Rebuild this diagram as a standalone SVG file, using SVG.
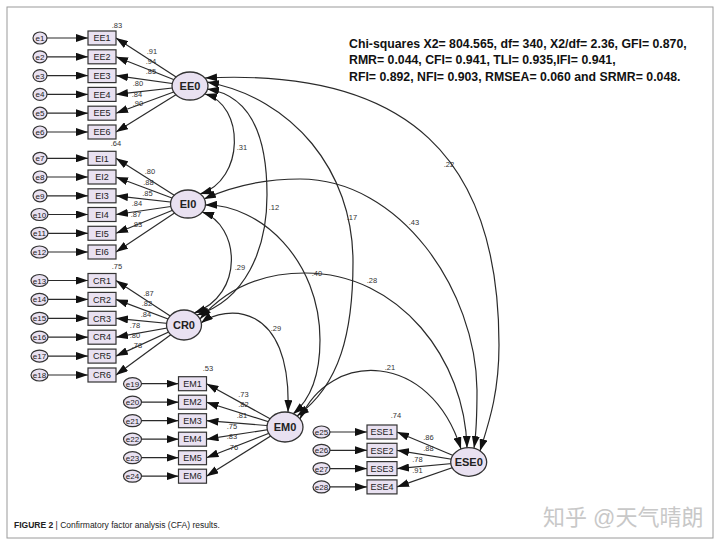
<svg xmlns="http://www.w3.org/2000/svg" width="720" height="545" viewBox="0 0 720 545">
<style>
.bg{fill:#ffffff}
.frame{fill:none;stroke:#9a9a9a;stroke-width:1}
.box{fill:#e9e1f1;stroke:#333;stroke-width:1.2}
.err{fill:#e9e1f1;stroke:#333;stroke-width:1.2}
.lat{fill:#e9e1f1;stroke:#333;stroke-width:1.3}
.ln{fill:none;stroke:#2a2a2a;stroke-width:1.2}
.tb{font-family:"Liberation Sans",Arial,sans-serif;font-size:9px;fill:#222;text-anchor:middle}
.te{font-family:"Liberation Sans",Arial,sans-serif;font-size:8px;fill:#222;text-anchor:middle}
.tl{font-family:"Liberation Sans",Arial,sans-serif;font-size:11px;font-weight:bold;fill:#222;text-anchor:middle}
.tn{font-family:"Liberation Sans",Arial,sans-serif;font-size:7.5px;fill:#333;text-anchor:middle}
.st{font-family:"Liberation Sans",Arial,sans-serif;font-size:12.3px;font-weight:bold;fill:#111}
.cap{font-family:"Liberation Sans",Arial,sans-serif;font-size:8.5px;fill:#222}
.wm{font-family:"Liberation Sans","Noto Sans CJK SC",sans-serif;font-size:22px;fill:#c8c8c8}
</style>
<defs>
<marker id="ah" viewBox="0 0 12 8" refX="12" refY="4" markerWidth="12" markerHeight="8" markerUnits="userSpaceOnUse" orient="auto-start-reverse"><path d="M0,0 L12,4 L0,8 z" fill="#111"/></marker>
</defs>
<rect class="bg" x="0" y="0" width="720" height="545"/>
<rect class="frame" x="7" y="7" width="706" height="531"/>

<g id="connectors">
<g marker-end="url(#ah)" class="ln">
<line x1="40" y1="38" x2="88" y2="38"/><line x1="40" y1="56.8" x2="88" y2="56.8"/><line x1="40" y1="75.6" x2="88" y2="75.6"/>
<line x1="40" y1="94.4" x2="88" y2="94.4"/><line x1="40" y1="113.2" x2="88" y2="113.2"/><line x1="40" y1="132" x2="88" y2="132"/>
<line x1="40" y1="158.3" x2="88" y2="158.3"/><line x1="40" y1="177" x2="88" y2="177"/><line x1="40" y1="195.8" x2="88" y2="195.8"/>
<line x1="40" y1="214.5" x2="88" y2="214.5"/><line x1="40" y1="233.3" x2="88" y2="233.3"/><line x1="40" y1="252" x2="88" y2="252"/>
<line x1="40" y1="280.5" x2="88" y2="280.5"/><line x1="40" y1="299.4" x2="88" y2="299.4"/><line x1="40" y1="318.3" x2="88" y2="318.3"/>
<line x1="40" y1="337.2" x2="88" y2="337.2"/><line x1="40" y1="356.1" x2="88" y2="356.1"/><line x1="40" y1="375" x2="88" y2="375"/>
<line x1="132.5" y1="383.7" x2="178.5" y2="383.7"/><line x1="132.5" y1="402.2" x2="178.5" y2="402.2"/><line x1="132.5" y1="420.7" x2="178.5" y2="420.7"/>
<line x1="132.5" y1="439.2" x2="178.5" y2="439.2"/><line x1="132.5" y1="457.7" x2="178.5" y2="457.7"/><line x1="132.5" y1="476.2" x2="178.5" y2="476.2"/>
<line x1="321.5" y1="432" x2="367" y2="432"/><line x1="321.5" y1="450.3" x2="367" y2="450.3"/><line x1="321.5" y1="468.6" x2="367" y2="468.6"/><line x1="321.5" y1="486.9" x2="367" y2="486.9"/>
</g>
<g marker-end="url(#ah)" class="ln">
<line x1="190" y1="86" x2="116" y2="38"/><line x1="190" y1="86" x2="116" y2="56.8"/><line x1="190" y1="86" x2="116" y2="75.6"/>
<line x1="190" y1="86" x2="116" y2="94.4"/><line x1="190" y1="86" x2="116" y2="113.2"/><line x1="190" y1="86" x2="116" y2="132"/>
<line x1="188" y1="204" x2="116" y2="158.3"/><line x1="188" y1="204" x2="116" y2="177"/><line x1="188" y1="204" x2="116" y2="195.8"/>
<line x1="188" y1="204" x2="116" y2="214.5"/><line x1="188" y1="204" x2="116" y2="233.3"/><line x1="188" y1="204" x2="116" y2="252"/>
<line x1="184" y1="325" x2="116" y2="280.5"/><line x1="184" y1="325" x2="116" y2="299.4"/><line x1="184" y1="325" x2="116" y2="318.3"/>
<line x1="184" y1="325" x2="116" y2="337.2"/><line x1="184" y1="325" x2="116" y2="356.1"/><line x1="184" y1="325" x2="116" y2="375"/>
<line x1="285" y1="427" x2="206.5" y2="383.7"/><line x1="285" y1="427" x2="206.5" y2="402.2"/><line x1="285" y1="427" x2="206.5" y2="420.7"/>
<line x1="285" y1="427" x2="206.5" y2="439.2"/><line x1="285" y1="427" x2="206.5" y2="457.7"/><line x1="285" y1="427" x2="206.5" y2="476.2"/>
<line x1="468.7" y1="462" x2="397" y2="432"/><line x1="468.7" y1="462" x2="397" y2="450.3"/><line x1="468.7" y1="462" x2="397" y2="468.6"/><line x1="468.7" y1="462" x2="397" y2="486.9"/>
</g>
<g marker-start="url(#ah)" marker-end="url(#ah)" class="ln">
<path d="M205,94 C245,105 245,180 200,194"/>
<path d="M207,89 C250,95 267,135 267,195 C267,250 245,300 197,315"/>
<path d="M207,82 C292,98 353,170 353,262 C353,332 340,385 297,416"/>
<path d="M205,78 C410,68 499,160 499,345 C499,395 488,425 480,451"/>
<path d="M204,199 C235,185 265,179 300,179 C400,179 476,290 477,390 C477,420 476,435 474,448"/>
<path d="M205,205 C260,204 320,260 320,340 C320,375 310,400 293,414"/>
<path d="M202,212 C240,225 245,295 194,313"/>
<path d="M200,319 C225,290 260,273 305,273 C400,273 465,360 467,448"/>
<path d="M201,323 C225,305 292,300 288,412"/>
<path d="M300,419 C330,350 430,350 461,449"/>
</g>
</g>

<g id="path-labels">
<text class="tn" x="152" y="54">.91</text><text class="tn" x="151" y="64">.94</text><text class="tn" x="151" y="74">.85</text>
<text class="tn" x="138" y="85.5">.80</text><text class="tn" x="137" y="96.5">.84</text><text class="tn" x="138" y="105.5">.90</text>
<text class="tn" x="150" y="174">.80</text><text class="tn" x="148.5" y="184.5">.88</text><text class="tn" x="147.5" y="195.5">.85</text>
<text class="tn" x="137" y="205.5">.84</text><text class="tn" x="136" y="216.5">.87</text><text class="tn" x="137" y="226.5">.83</text>
<text class="tn" x="148.5" y="295.5">.87</text><text class="tn" x="147" y="305.5">.82</text><text class="tn" x="146" y="316.5">.84</text>
<text class="tn" x="135" y="327.5">.78</text><text class="tn" x="135" y="337.5">.80</text><text class="tn" x="137" y="347.5">.78</text>
<text class="tn" x="243.5" y="396.5">.73</text><text class="tn" x="243.5" y="406.5">.82</text><text class="tn" x="242" y="417.5">.81</text>
<text class="tn" x="232" y="428.5">.75</text><text class="tn" x="232" y="439">.83</text><text class="tn" x="233" y="449.5">.76</text>
<text class="tn" x="428.5" y="439.5">.86</text><text class="tn" x="428.5" y="450.5">.88</text><text class="tn" x="417.5" y="461.5">.78</text><text class="tn" x="417.5" y="472.5">.91</text>
<text class="tn" x="117" y="27.5">.83</text><text class="tn" x="116" y="146">.64</text><text class="tn" x="117" y="269">.75</text>
<text class="tn" x="208" y="371">.53</text><text class="tn" x="396" y="417.5">.74</text>
<text class="tn" x="242" y="149.5">.31</text><text class="tn" x="274" y="209.5">.12</text><text class="tn" x="352" y="219.5">.17</text>
<text class="tn" x="449" y="166.5">.22</text><text class="tn" x="414" y="224.5">.43</text><text class="tn" x="240" y="269.5">.29</text>
<text class="tn" x="317" y="275.5">.40</text><text class="tn" x="372" y="282.5">.28</text><text class="tn" x="276" y="330.5">.29</text>
<text class="tn" x="390" y="369.5">.21</text>
</g>

<g id="e1"><ellipse class="err" cx="40" cy="38" rx="7" ry="6"/><text class="te" x="40" y="41">e1</text></g>
<g id="e2"><ellipse class="err" cx="40" cy="56.8" rx="7" ry="6"/><text class="te" x="40" y="59.8">e2</text></g>
<g id="e3"><ellipse class="err" cx="40" cy="75.6" rx="7" ry="6"/><text class="te" x="40" y="78.6">e3</text></g>
<g id="e4"><ellipse class="err" cx="40" cy="94.4" rx="7" ry="6"/><text class="te" x="40" y="97.4">e4</text></g>
<g id="e5"><ellipse class="err" cx="40" cy="113.2" rx="7" ry="6"/><text class="te" x="40" y="116.2">e5</text></g>
<g id="e6"><ellipse class="err" cx="40" cy="132" rx="7" ry="6"/><text class="te" x="40" y="135">e6</text></g>
<g id="e7"><ellipse class="err" cx="40" cy="158.3" rx="7" ry="6"/><text class="te" x="40" y="161.3">e7</text></g>
<g id="e8"><ellipse class="err" cx="40" cy="177" rx="7" ry="6"/><text class="te" x="40" y="180">e8</text></g>
<g id="e9"><ellipse class="err" cx="40" cy="195.8" rx="7" ry="6"/><text class="te" x="40" y="198.8">e9</text></g>
<g id="e10"><ellipse class="err" cx="39.5" cy="214.5" rx="8.5" ry="6"/><text class="te" x="39.5" y="217.5">e10</text></g>
<g id="e11"><ellipse class="err" cx="39.5" cy="233.3" rx="8.5" ry="6"/><text class="te" x="39.5" y="236.3">e11</text></g>
<g id="e12"><ellipse class="err" cx="39.5" cy="252" rx="8.5" ry="6"/><text class="te" x="39.5" y="255">e12</text></g>
<g id="e13"><ellipse class="err" cx="39.5" cy="280.5" rx="8.5" ry="6"/><text class="te" x="39.5" y="283.5">e13</text></g>
<g id="e14"><ellipse class="err" cx="39.5" cy="299.4" rx="8.5" ry="6"/><text class="te" x="39.5" y="302.4">e14</text></g>
<g id="e15"><ellipse class="err" cx="39.5" cy="318.3" rx="8.5" ry="6"/><text class="te" x="39.5" y="321.3">e15</text></g>
<g id="e16"><ellipse class="err" cx="39.5" cy="337.2" rx="8.5" ry="6"/><text class="te" x="39.5" y="340.2">e16</text></g>
<g id="e17"><ellipse class="err" cx="39.5" cy="356.1" rx="8.5" ry="6"/><text class="te" x="39.5" y="359.1">e17</text></g>
<g id="e18"><ellipse class="err" cx="39.5" cy="375" rx="8.5" ry="6"/><text class="te" x="39.5" y="378">e18</text></g>
<g id="e19"><ellipse class="err" cx="132.5" cy="383.7" rx="9" ry="6"/><text class="te" x="132.5" y="386.7">e19</text></g>
<g id="e20"><ellipse class="err" cx="132.5" cy="402.2" rx="9" ry="6"/><text class="te" x="132.5" y="405.2">e20</text></g>
<g id="e21"><ellipse class="err" cx="132.5" cy="420.7" rx="9" ry="6"/><text class="te" x="132.5" y="423.7">e21</text></g>
<g id="e22"><ellipse class="err" cx="132.5" cy="439.2" rx="9" ry="6"/><text class="te" x="132.5" y="442.2">e22</text></g>
<g id="e23"><ellipse class="err" cx="132.5" cy="457.7" rx="9" ry="6"/><text class="te" x="132.5" y="460.7">e23</text></g>
<g id="e24"><ellipse class="err" cx="132.5" cy="476.2" rx="9" ry="6"/><text class="te" x="132.5" y="479.2">e24</text></g>
<g id="e25"><ellipse class="err" cx="321.5" cy="432" rx="8.5" ry="6"/><text class="te" x="321.5" y="435">e25</text></g>
<g id="e26"><ellipse class="err" cx="321.5" cy="450.3" rx="8.5" ry="6"/><text class="te" x="321.5" y="453.3">e26</text></g>
<g id="e27"><ellipse class="err" cx="321.5" cy="468.6" rx="8.5" ry="6"/><text class="te" x="321.5" y="471.6">e27</text></g>
<g id="e28"><ellipse class="err" cx="321.5" cy="486.9" rx="8.5" ry="6"/><text class="te" x="321.5" y="489.9">e28</text></g>

<g id="EE1"><rect class="box" x="88" y="31" width="28" height="14"/><text class="tb" x="102" y="41.2">EE1</text></g>
<g id="EE2"><rect class="box" x="88" y="49.8" width="28" height="14"/><text class="tb" x="102" y="60">EE2</text></g>
<g id="EE3"><rect class="box" x="88" y="68.6" width="28" height="14"/><text class="tb" x="102" y="78.8">EE3</text></g>
<g id="EE4"><rect class="box" x="88" y="87.4" width="28" height="14"/><text class="tb" x="102" y="97.6">EE4</text></g>
<g id="EE5"><rect class="box" x="88" y="106.2" width="28" height="14"/><text class="tb" x="102" y="116.4">EE5</text></g>
<g id="EE6"><rect class="box" x="88" y="125" width="28" height="14"/><text class="tb" x="102" y="135.2">EE6</text></g>
<g id="EI1"><rect class="box" x="88" y="151.3" width="28" height="14"/><text class="tb" x="102" y="161.5">EI1</text></g>
<g id="EI2"><rect class="box" x="88" y="170" width="28" height="14"/><text class="tb" x="102" y="180.2">EI2</text></g>
<g id="EI3"><rect class="box" x="88" y="188.8" width="28" height="14"/><text class="tb" x="102" y="199">EI3</text></g>
<g id="EI4"><rect class="box" x="88" y="207.5" width="28" height="14"/><text class="tb" x="102" y="217.7">EI4</text></g>
<g id="EI5"><rect class="box" x="88" y="226.3" width="28" height="14"/><text class="tb" x="102" y="236.5">EI5</text></g>
<g id="EI6"><rect class="box" x="88" y="245" width="28" height="14"/><text class="tb" x="102" y="255.2">EI6</text></g>
<g id="CR1"><rect class="box" x="88" y="273.5" width="28" height="14"/><text class="tb" x="102" y="283.7">CR1</text></g>
<g id="CR2"><rect class="box" x="88" y="292.4" width="28" height="14"/><text class="tb" x="102" y="302.6">CR2</text></g>
<g id="CR3"><rect class="box" x="88" y="311.3" width="28" height="14"/><text class="tb" x="102" y="321.5">CR3</text></g>
<g id="CR4"><rect class="box" x="88" y="330.2" width="28" height="14"/><text class="tb" x="102" y="340.4">CR4</text></g>
<g id="CR5"><rect class="box" x="88" y="349.1" width="28" height="14"/><text class="tb" x="102" y="359.3">CR5</text></g>
<g id="CR6"><rect class="box" x="88" y="368" width="28" height="14"/><text class="tb" x="102" y="378.2">CR6</text></g>
<g id="EM1"><rect class="box" x="178.5" y="376.7" width="28" height="14"/><text class="tb" x="192.5" y="386.9">EM1</text></g>
<g id="EM2"><rect class="box" x="178.5" y="395.2" width="28" height="14"/><text class="tb" x="192.5" y="405.4">EM2</text></g>
<g id="EM3"><rect class="box" x="178.5" y="413.7" width="28" height="14"/><text class="tb" x="192.5" y="423.9">EM3</text></g>
<g id="EM4"><rect class="box" x="178.5" y="432.2" width="28" height="14"/><text class="tb" x="192.5" y="442.4">EM4</text></g>
<g id="EM5"><rect class="box" x="178.5" y="450.7" width="28" height="14"/><text class="tb" x="192.5" y="460.9">EM5</text></g>
<g id="EM6"><rect class="box" x="178.5" y="469.2" width="28" height="14"/><text class="tb" x="192.5" y="479.4">EM6</text></g>
<g id="ESE1"><rect class="box" x="367" y="425" width="30" height="14"/><text class="tb" x="382" y="435.2">ESE1</text></g>
<g id="ESE2"><rect class="box" x="367" y="443.3" width="30" height="14"/><text class="tb" x="382" y="453.5">ESE2</text></g>
<g id="ESE3"><rect class="box" x="367" y="461.6" width="30" height="14"/><text class="tb" x="382" y="471.8">ESE3</text></g>
<g id="ESE4"><rect class="box" x="367" y="479.9" width="30" height="14"/><text class="tb" x="382" y="490.1">ESE4</text></g>

<g id="EE0"><ellipse class="lat" cx="190" cy="86" rx="18" ry="14"/><text class="tl" x="190" y="90">EE0</text></g>
<g id="EI0"><ellipse class="lat" cx="188" cy="204" rx="17.5" ry="14"/><text class="tl" x="188" y="208">EI0</text></g>
<g id="CR0"><ellipse class="lat" cx="184" cy="325" rx="17.5" ry="15"/><text class="tl" x="184" y="329">CR0</text></g>
<g id="EM0"><ellipse class="lat" cx="285" cy="427" rx="18" ry="15"/><text class="tl" x="285" y="431">EM0</text></g>
<g id="ESE0"><ellipse class="lat" cx="468.7" cy="462" rx="18" ry="14.3"/><text class="tl" x="468.7" y="466">ESE0</text></g>

<g id="fit-stats">
<text class="st" x="349" y="47.5">Chi-squares X2= 804.565, df= 340, X2/df= 2.36, GFI= 0.870,</text>
<text class="st" x="349" y="64">RMR= 0.044, CFI= 0.941, TLI= 0.935,IFI= 0.941,</text>
<text class="st" x="349" y="80.5">RFI= 0.892, NFI= 0.903, RMSEA= 0.060 and SRMR= 0.048.</text>
</g>
<text class="cap" x="14" y="528"><tspan font-weight="bold">FIGURE 2</tspan> | Confirmatory factor analysis (CFA) results.</text>
<text class="wm" x="543" y="525">知乎 @天气晴朗</text>
</svg>
